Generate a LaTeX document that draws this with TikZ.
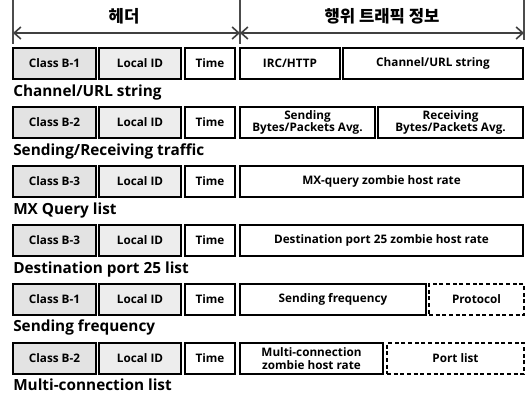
\documentclass[tikz,border=0pt]{standalone}
\usepackage{fontspec}
\setmainfont{Open Sans}
\newfontfamily\krfont{Noto Sans CJK KR}
\usetikzlibrary{arrows.meta}
\tikzset{
  fld/.style={draw=black, line width=1pt, inner sep=0pt, align=center, font=\fontsize{8.8}{9.6}\selectfont\bfseries},
  classbox/.style={fld, fill=gray!22, line width=1.5pt},
  idbox/.style={fld, fill=gray!14, line width=1.2pt},
  optbox/.style={fld, dashed, dash pattern=on 3pt off 2pt},
  rowlabel/.style={anchor=base west, inner sep=0pt, font=\fontsize{11.5}{13}\selectfont\bfseries},
  htext/.style={font=\krfont\fontsize{12.5}{14}\selectfont\bfseries},
  harrow/.style={draw=black!75, line width=1.2pt, >={Straight Barb[length=5pt,width=9pt]}, <->},
  tick/.style={draw=black!70, line width=0.8pt}
}
% name, x1, x2, ytop, style, text
\newcommand\fbx[6]{%
  \node[#5, minimum width={(#3-#2)*0.75pt}, minimum height={31*0.75pt}] (#1) at ({(#2+#3)/2},{#4+15.5}) {#6};}
\begin{document}
\begin{tikzpicture}[x=0.75pt,y=-0.75pt]
\useasboundingbox (0,0) rectangle (530,394);
% header
\coordinate (hL) at (13,33);
\coordinate (hM) at (240,33);
\coordinate (hR) at (524,33);
\draw[tick] (13,0) -- (13,44);
\draw[tick] (240,0) -- (240,44);
\draw[tick] (524,0) -- (524,40);
\draw[harrow] (hL) -- (hM);
\draw[harrow] (hM) -- (hR);
\node[htext] (hdr1) at (124,16) {헤더};
\node[htext] (hdr2) at (382,16) {행위 트래픽 정보};
% row 1
\fbx{c1}{13}{96}{48}{classbox}{Class B-1}
\fbx{l1}{99}{181}{48}{idbox}{Local ID}
\fbx{t1}{185}{235}{48}{fld}{Time}
\fbx{a1}{240}{340}{48}{fld}{IRC/HTTP}
\fbx{b1}{343}{523}{48}{fld}{Channel/URL string}
\node[rowlabel] (r1) at (13,96) {Channel/URL string};
% row 2
\fbx{c2}{13}{96}{107}{classbox}{Class B-2}
\fbx{l2}{99}{181}{107}{idbox}{Local ID}
\fbx{t2}{185}{235}{107}{fld}{Time}
\fbx{a2}{240}{375}{107}{fld}{Sending\\Bytes/Packets Avg.}
\fbx{b2}{378}{523}{107}{fld}{Receiving\\Bytes/Packets Avg.}
\node[rowlabel] (r2) at (13,155) {Sending/Receiving traffic};
% row 3
\fbx{c3}{13}{96}{166}{classbox}{Class B-3}
\fbx{l3}{99}{181}{166}{idbox}{Local ID}
\fbx{t3}{185}{235}{166}{fld}{Time}
\fbx{a3}{240}{523}{166}{fld}{MX-query zombie host rate}
\node[rowlabel] (r3) at (13,214) {MX Query list};
% row 4
\fbx{c4}{13}{96}{225}{classbox}{Class B-3}
\fbx{l4}{99}{181}{225}{idbox}{Local ID}
\fbx{t4}{185}{235}{225}{fld}{Time}
\fbx{a4}{240}{523}{225}{fld}{Destination port 25 zombie host rate}
\node[rowlabel] (r4) at (13,273) {Destination port 25 list};
% row 5
\fbx{c5}{13}{96}{284}{classbox}{Class B-1}
\fbx{l5}{99}{181}{284}{idbox}{Local ID}
\fbx{t5}{185}{235}{284}{fld}{Time}
\fbx{a5}{240}{426}{284}{fld}{Sending frequency}
\fbx{b5}{429}{524}{284}{optbox}{Protocol}
\node[rowlabel] (r5) at (13,331) {Sending frequency};
% row 6
\fbx{c6}{13}{96}{343}{classbox}{Class B-2}
\fbx{l6}{99}{181}{343}{idbox}{Local ID}
\fbx{t6}{185}{235}{343}{fld}{Time}
\fbx{a6}{240}{383}{343}{fld}{Multi-connection\\zombie host rate}
\fbx{b6}{387}{524}{343}{optbox}{Port list}
\node[rowlabel] (r6) at (13,390) {Multi-connection list};
\end{tikzpicture}
\end{document}
